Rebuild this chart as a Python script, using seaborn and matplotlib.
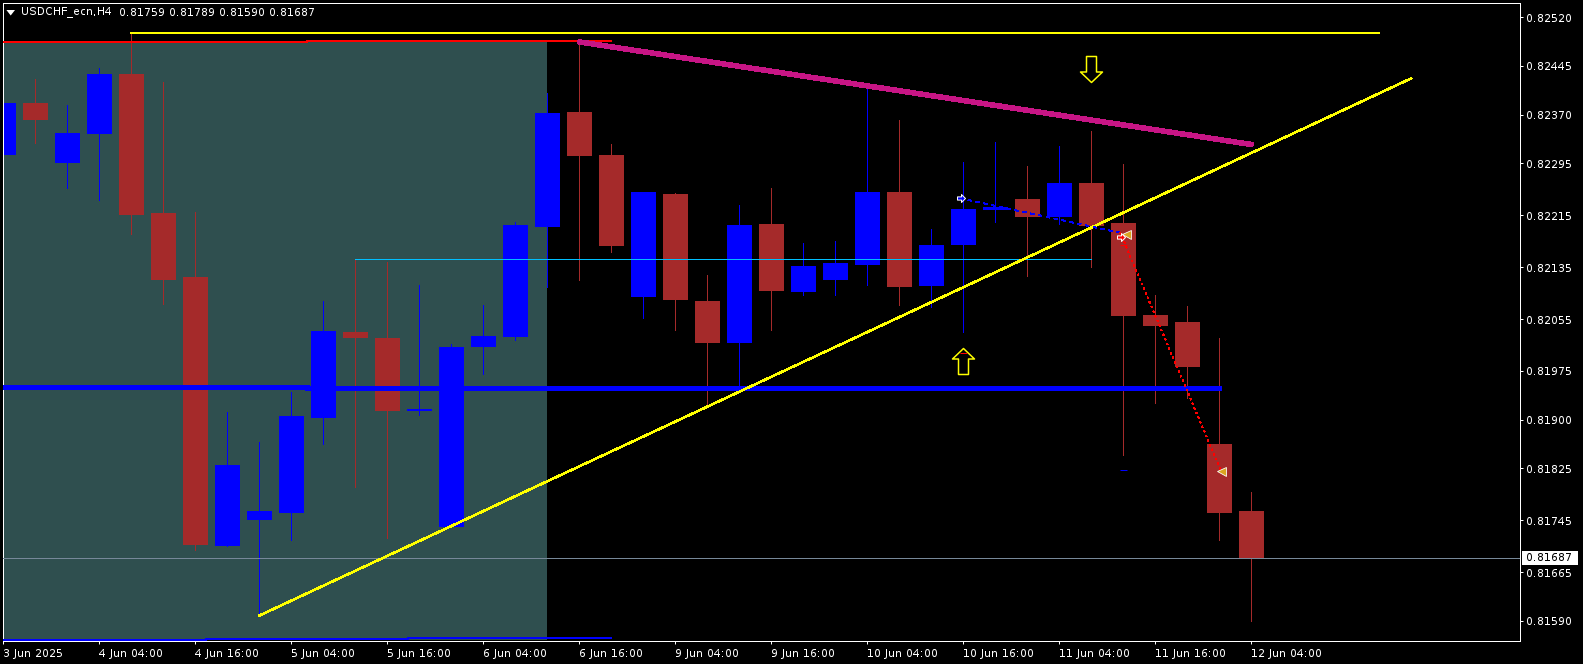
"""USDCHF H4 terminal chart redrawn with seaborn."""

import matplotlib

matplotlib.use("Agg")

import matplotlib.pyplot as plt
import pandas as pd
import seaborn as sns
from matplotlib.patches import Polygon, Rectangle
from matplotlib.path import Path

opens = [
    0.82308, 0.82388, 0.82295, 0.82340, 0.82433, 0.82218, 0.82120, 0.81705, 0.81746, 0.81756,
    0.81902, 0.82035, 0.82025, 0.81913, 0.81735, 0.82012, 0.82027, 0.82197, 0.82374, 0.82308,
    0.82089, 0.82248, 0.82082, 0.82018, 0.82201, 0.82096, 0.82115, 0.82138, 0.82251, 0.82106,
    0.82169, 0.82223, 0.82240, 0.82212, 0.82264, 0.82203, 0.82061, 0.82050, 0.81862, 0.81759,
]
highs = [
    0.82473, 0.82425, 0.82385, 0.82442, 0.82496, 0.82421, 0.82220, 0.81912, 0.81865, 0.81942,
    0.82082, 0.82147, 0.82143, 0.82107, 0.82016, 0.82076, 0.82204, 0.82403, 0.82477, 0.82325,
    0.82251, 0.82249, 0.82123, 0.82231, 0.82257, 0.82172, 0.82175, 0.82411, 0.82362, 0.82194,
    0.82297, 0.82328, 0.82291, 0.82322, 0.82345, 0.82294, 0.82092, 0.82075, 0.82025, 0.81789,
]
lows = [
    0.82167, 0.82327, 0.82257, 0.82238, 0.82186, 0.82078, 0.81699, 0.81705, 0.81598, 0.81715,
    0.81863, 0.81796, 0.81718, 0.81907, 0.81735, 0.81970, 0.82022, 0.82104, 0.82115, 0.82158,
    0.82057, 0.82038, 0.81922, 0.81950, 0.82038, 0.82092, 0.82092, 0.82107, 0.82076, 0.82073,
    0.82035, 0.82204, 0.82121, 0.82201, 0.82135, 0.81845, 0.81926, 0.81933, 0.81714, 0.81590,
]
closes = [
    0.82388, 0.82362, 0.82342, 0.82433, 0.82215, 0.82115, 0.81706, 0.81830, 0.81759, 0.81905,
    0.82036, 0.82025, 0.81913, 0.81916, 0.82012, 0.82029, 0.82200, 0.82372, 0.82306, 0.82167,
    0.82251, 0.82084, 0.82018, 0.82200, 0.82098, 0.82136, 0.82141, 0.82251, 0.82104, 0.82169,
    0.82224, 0.82227, 0.82212, 0.82264, 0.82198, 0.82059, 0.82044, 0.81981, 0.81756, 0.81687,
]

date_labels = [
    "3 Jun 2025", "4 Jun 04:00", "4 Jun 16:00", "5 Jun 04:00", "5 Jun 16:00",
    "6 Jun 04:00", "6 Jun 16:00", "9 Jun 04:00", "9 Jun 16:00", "10 Jun 04:00",
    "10 Jun 16:00", "11 Jun 04:00", "11 Jun 16:00", "12 Jun 04:00",
]
price_ticks = [
    0.82520, 0.82445, 0.82370, 0.82295, 0.82215, 0.82135, 0.82055,
    0.81975, 0.81900, 0.81825, 0.81745, 0.81665, 0.81590,
]

# objects placed on the chart, (bar, price)
red_top_x = [-1, 9.5, 9.5, 19]
red_top_y = [0.82482, 0.82482, 0.82484, 0.82484]
yellow_top_x = [4, 43]
yellow_top_y = [0.82496, 0.82496]
support_x = [-1, 9.5, 9.5, 28.5, 28.5, 38]
support_y = [0.81950, 0.81950, 0.81949, 0.81949, 0.81948, 0.81948]
floor_x = [-1, 6.33, 6.33, 12.65, 12.65, 19]
floor_y = [0.81561, 0.81561, 0.81562, 0.81562, 0.81564, 0.81564]
trend_down_x = [18, 39]
trend_down_y = [0.82482, 0.82324]
trend_up_x = [8, 44]
trend_up_y = [0.81598, 0.82426]
cyan_x = [11, 34]
cyan_y = [0.82147, 0.82147]
blue_path_x = [29.9, 34.9]
blue_path_y = [0.82241, 0.82188]
red_path_x = [34.9, 38.05]
red_path_y = [0.82188, 0.81821]
shade_x = [-1, 17]
shade_y = [0.81561, 0.82482]

W, H, DPI = 1583, 664, 100
LEFT, RIGHT, TOP, BOTTOM = 2.5, 1519.5, 2.5, 640.5
FONT_SIZE = 8.2
BLUE = "#0000FF"
BROWN = "#A52A2A"
YELLOW = "#FFFF00"
RED = "#FF0000"
PX = 72 / DPI

sns.set_theme(style="dark")
plt.rcParams["font.family"] = ["DejaVu Sans"]
plt.rcParams["font.size"] = FONT_SIZE
plt.rcParams["text.hinting"] = "native"
plt.rcParams["text.hinting_factor"] = 1

candles = pd.DataFrame({"bar": range(len(opens)), "open": opens, "high": highs, "low": lows, "close": closes})
candles["bottom"] = candles[["open", "close"]].min(axis=1)
candles["body"] = (candles["close"] - candles["open"]).abs()
candles["up"] = candles["close"] >= candles["open"]

fig = plt.figure(figsize=(W / DPI, H / DPI), dpi=DPI, facecolor="black")
ax = fig.add_axes([LEFT / W, 1 - BOTTOM / H, (RIGHT - LEFT) / W, (BOTTOM - TOP) / H], facecolor="black")

ax.add_patch(Rectangle((shade_x[0], shade_y[0]), shade_x[1] - shade_x[0], shade_y[1] - shade_y[0],
                       facecolor="#2F4F4F", edgecolor="none", zorder=0, antialiased=False))

for up, color in ((True, BLUE), (False, BROWN)):
    part = candles[candles["up"] == up].sort_values("bar")
    ax.vlines(part["bar"], part["low"], part["high"], colors=color, linewidth=PX, antialiased=False, zorder=1)
    sns.barplot(data=part, x="bar", y="body", bottom=part["bottom"], color=color, saturation=1,
                native_scale=True, width=0.78, errorbar=None, linewidth=0, antialiased=False, zorder=2, ax=ax)

line_opts = {"antialiased": False, "zorder": 3}
ax.plot([-1, 48], [closes[-1]] * 2, color="#778899", linewidth=PX, **line_opts)
ax.plot(floor_x, floor_y, color=BLUE, linewidth=1.5 * PX, **line_opts)
ax.plot(red_top_x, red_top_y, color=RED, linewidth=2 * PX, **line_opts)
ax.plot(yellow_top_x, yellow_top_y, color=YELLOW, linewidth=2 * PX, **line_opts)
ax.plot(support_x, support_y, color=BLUE, linewidth=5 * PX, solid_capstyle="round", **line_opts)
ax.plot(cyan_x, cyan_y, color="#00BFFF", linewidth=PX, **line_opts)
ax.plot(trend_down_x, trend_down_y, color="#C71585", linewidth=4.5 * PX, solid_capstyle="round", **line_opts)
ax.plot(trend_up_x, trend_up_y, color=YELLOW, linewidth=1.5 * PX, **line_opts)
ax.plot(blue_path_x, blue_path_y, color=BLUE, linewidth=PX, linestyle=(0, (3, 5)), **line_opts)
ax.plot(red_path_x, red_path_y, color=RED, linewidth=PX, linestyle=(0, (2, 4)), **line_opts)

# arrows, one outline flipped for the other direction
arrow_up = Path([(0, 13), (11, 2.5), (5, 2.5), (5, -13), (-5, -13), (-5, 2.5), (-11, 2.5), (0, 13)], closed=True)
arrow_down = Path([(x, -y) for x, y in arrow_up.vertices], closed=True)
arrow_right = Path([(5, 0), (0, 5), (0, 2), (-5, 2), (-5, -2), (0, -2), (0, -5), (5, 0)], closed=True)
ax.plot([30], [0.81990], marker=arrow_up, markersize=26 * PX, mfc="black", mec=YELLOW, mew=1.5 * PX, zorder=4)
ax.plot([34], [0.82440], marker=arrow_down, markersize=26 * PX, mfc="black", mec=YELLOW, mew=1.5 * PX, zorder=4)
ax.plot([29.91], [0.82241], marker=arrow_right, markersize=8 * PX, mfc=BLUE, mec="white", mew=PX, zorder=4)
ax.plot([34.93], [0.82181], marker=arrow_right, markersize=8 * PX, mfc=RED, mec="white", mew=PX, zorder=4)
ax.plot([35.07, 38.05], [0.82186, 0.81821], linestyle="none", marker="<", markersize=9 * PX,
        mfc="#DAA520", mec="white", mew=0.8 * PX, zorder=5)
ax.plot([30], [0.82003], marker="_", markersize=7 * PX, color=RED, mew=PX, zorder=4)
ax.plot([35], [0.82169], marker="_", markersize=7 * PX, color=RED, mew=PX, zorder=4)
ax.plot([35], [0.81822], marker="_", markersize=7 * PX, color=BLUE, mew=PX, zorder=4)

ax.set_xlim((LEFT - 3.4) / 32, (RIGHT - 3.4) / 32)
ax.set_ylim(0.8155955, 0.825428)
ax.set_xlabel("")
ax.set_ylabel("")
ax.grid(False)

ax.set_xticks(range(0, 3 * len(date_labels), 3))
ax.set_xticklabels(date_labels, ha="left")
ax.yaxis.tick_right()
ax.set_yticks(price_ticks)
ax.set_yticklabels([f"{p:.5f}" for p in price_ticks])
ax.tick_params(axis="both", colors="white", labelcolor="white", length=3 * PX, width=PX, labelsize=FONT_SIZE,
               bottom=True, right=True, left=False)
ax.tick_params(axis="x", pad=3.3)
ax.tick_params(axis="y", pad=2.4)
for label in ax.get_xticklabels():
    label.set_x(label.get_position()[0])
for spine in ax.spines.values():
    spine.set_visible(True)
    spine.set_color("white")
    spine.set_linewidth(PX)

# current price flag on the axis
ax.add_patch(Rectangle((1 + 2 / (RIGHT - LEFT), closes[-1] - 0.00011), 56 / (RIGHT - LEFT), 0.00022,
                       transform=ax.get_yaxis_transform(), facecolor="white", edgecolor="none",
                       clip_on=False, zorder=6))
ax.annotate(f"{closes[-1]:.5f}", xy=(1, closes[-1]), xycoords=ax.get_yaxis_transform(), xytext=(6.5 * PX, 0),
            textcoords="offset points", ha="left", va="center", color="black", fontsize=FONT_SIZE,
            annotation_clip=False, zorder=7)

# header
fig.add_artist(Polygon([(6.4 / W, 1 - 10 / H), (15 / W, 1 - 10 / H), (10.7 / W, 1 - 15.5 / H)],
                       closed=True, facecolor="white", edgecolor="none", transform=fig.transFigure))
fig.text(21.4 / W, 1 - 13 / H, "USDCHF_ecn,H4", color="white", fontsize=FONT_SIZE, va="center", ha="left")
fig.text(119.3 / W, 1 - 13 / H, f"{opens[-1]:.5f} {highs[-1]:.5f} {lows[-1]:.5f} {closes[-1]:.5f}",
         color="white", fontsize=FONT_SIZE, va="center", ha="left")

fig.savefig("out.png", dpi=DPI, facecolor="black")
plt.close(fig)
